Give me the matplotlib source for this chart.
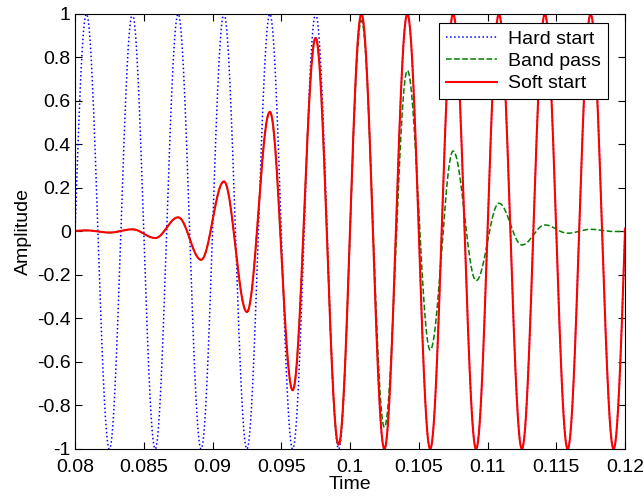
import numpy as np
import matplotlib.pyplot as plt

plt.rcParams['font.family'] = ['Liberation Sans', 'DejaVu Sans']
plt.rcParams['axes.unicode_minus'] = False

# times of the successive peaks/troughs
ext_times = [0.07917, 0.08083, 0.08250, 0.08417, 0.08583, 0.08750, 0.08917,
             0.09083, 0.09250, 0.09417, 0.09583, 0.09750, 0.09917, 0.10083,
             0.10250, 0.10417, 0.10583, 0.10750, 0.10917, 0.11083, 0.11250,
             0.11417, 0.11583, 0.11750, 0.11917, 0.12083]

# amplitude of each extremum
hard_amp = [-1, 1, -1, 1, -1, 1, -1, 1, -1, 1, -1, 1, -1, 1,
            -1, 1, -1, 1, -1, 1, -1, 1, -1, 1, -1, 1]
band_amp = [0.0, 0.005, -0.005, 0.01, -0.03, 0.065, -0.13, 0.23, -0.37, 0.55,
            -0.73, 0.89, -0.98, 0.97, -0.9, 0.74, -0.545, 0.37, -0.226, 0.13,
            -0.062, 0.03, -0.008, 0.01, 0.0, 0.0]
soft_amp = [0.0, 0.005, -0.005, 0.01, -0.03, 0.065, -0.13, 0.23, -0.37, 0.55,
            -0.73, 0.89, -0.98, 1, -1, 1, -1, 1, -1, 1,
            -1, 1, -1, 1, -1, 1]

xticks = [0.08, 0.085, 0.09, 0.095, 0.1, 0.105, 0.11, 0.115, 0.12]
xticklabels = ['0.08', '0.085', '0.09', '0.095', '0.1', '0.105', '0.11', '0.115', '0.12']
yticks = [-1, -0.8, -0.6, -0.4, -0.2, 0, 0.2, 0.4, 0.6, 0.8, 1]
yticklabels = ['-1', '-0.8', '-0.6', '-0.4', '-0.2', '0', '0.2', '0.4', '0.6', '0.8', '1']


def through_extrema(te, amp, t):
    # half-cosine between successive extrema so the wave stays smooth
    te = np.asarray(te)
    amp = np.asarray(amp, dtype=float)
    i = np.clip(np.searchsorted(te, t, side='right') - 1, 0, len(te) - 2)
    frac = (t - te[i]) / (te[i + 1] - te[i])
    a0, a1 = amp[i], amp[i + 1]
    return (a0 + a1) / 2 + (a0 - a1) / 2 * np.cos(np.pi * frac)


t = np.linspace(ext_times[0], ext_times[-1], 4000)

fig = plt.figure(figsize=(6.44, 4.98), dpi=100)
ax = fig.add_axes([0.1165, 0.0984, 0.854, 0.8735])

ax.plot(t, through_extrema(ext_times, hard_amp, t), ':', color='blue', lw=1.1, label='Hard start')
ax.plot(t, through_extrema(ext_times, band_amp, t), '--', color=(0, 0.5, 0), lw=1.1, label='Band pass')
ax.plot(t, through_extrema(ext_times, soft_amp, t), '-', color='red', lw=1.5, label='Soft start')

ax.set_xlim(0.08, 0.12)
ax.set_ylim(-1, 1)
ax.set_xticks(xticks)
ax.set_xticklabels(xticklabels)
ax.set_yticks(yticks)
ax.set_yticklabels(yticklabels)
ax.tick_params(direction='in', top=True, right=True, length=5, labelsize=14)
ax.tick_params(axis='y', pad=3)
ax.tick_params(axis='x', pad=7)
for s in ax.spines.values():
    s.set_linewidth(0.8)
ax.set_xlabel('Time', fontsize=14, labelpad=0)
ax.set_ylabel('Amplitude', fontsize=14, labelpad=4)

leg = ax.legend(loc='upper right', bbox_to_anchor=(0.969, 0.979), borderaxespad=0,
                fontsize=14, fancybox=False, framealpha=1, edgecolor='black',
                handlelength=2.6, handletextpad=0.6, borderpad=0.35, labelspacing=0.25)
leg.get_frame().set_linewidth(0.8)

fig.savefig('out.png', dpi=100)
